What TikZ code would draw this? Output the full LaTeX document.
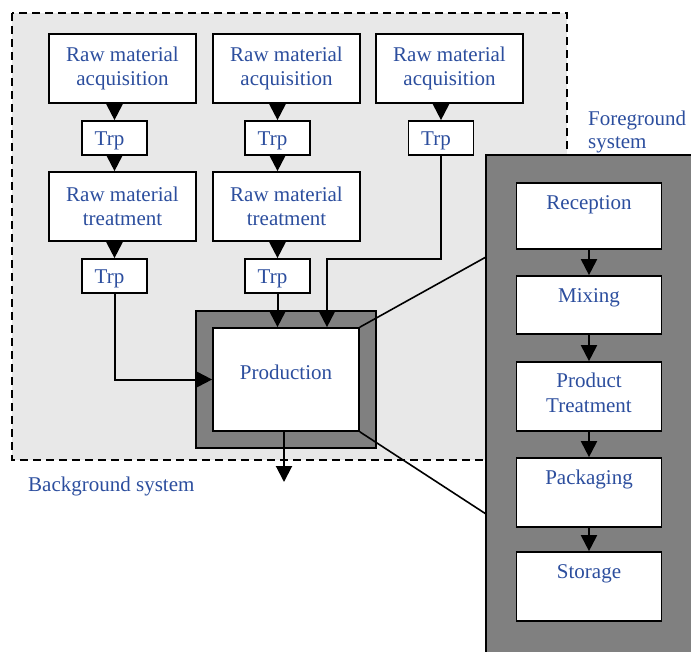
\documentclass[tikz,border=0pt]{standalone}
\usepackage{fontspec}
\setmainfont{Liberation Serif}
\usetikzlibrary{arrows.meta}
\definecolor{txtblue}{RGB}{44,78,158}
\definecolor{bglight}{RGB}{232,232,232}
\definecolor{framegray}{RGB}{128,128,128}
\begin{document}
\begin{tikzpicture}[x=1pt,y=-1pt,
  lbl/.style={font=\fontsize{21}{24.5}\selectfont, text=txtblue},
  box/.style={draw, line width=1.7pt, fill=white, inner sep=0pt, align=center,
    lbl, minimum width=147pt, minimum height=69pt},
  trpbox/.style={draw, line width=1.7pt, fill=white, inner sep=0pt,
    minimum width=65pt, minimum height=34pt},
  fgbox/.style={draw, line width=1.7pt, fill=white, inner sep=0pt,
    minimum width=145pt, minimum height=67pt},
  frame/.style={draw, line width=1.7pt, fill=framegray},
  flow/.style={line width=2pt, -{Triangle[length=16pt,width=16pt]}},
  link/.style={line width=1.6pt},
  trplbl/.style={lbl, inner sep=0pt, xshift=-5pt, yshift=-3pt},
  toplbl/.style={lbl, inner sep=0pt, anchor=base, yshift=-27.5pt}]
\useasboundingbox (0,0) rectangle (691,651);

% background system
\draw[fill=bglight, line width=1.5pt, dash pattern=on 8pt off 5pt] (12,13) rectangle (567,460);
\node[lbl, anchor=base west, inner sep=0pt] (bglabel) at (28,491) {Background system};

% raw material chains
\node[box] (acq1) at (122.5,68.5) {Raw material\\acquisition};
\node[box] (acq2) at (286.5,68.5) {Raw material\\acquisition};
\node[box] (acq3) at (449.5,68.5) {Raw material\\acquisition};
\node[trpbox, label={[trplbl]center:Trp}] (trp1a) at (114.5,138) {};
\node[trpbox, label={[trplbl]center:Trp}] (trp2a) at (277.5,138) {};
\node[trpbox, label={[trplbl]center:Trp}] (trp3a) at (441,138) {};
\node[box] (trt1) at (122.5,206.5) {Raw material\\treatment};
\node[box] (trt2) at (286.5,206.5) {Raw material\\treatment};
\node[trpbox, label={[trplbl]center:Trp}] (trp1b) at (114.5,276) {};
\node[trpbox, label={[trplbl]center:Trp}] (trp2b) at (277.5,276) {};

\draw[flow] (trp1a.north |- acq1.south) -- (trp1a.north);
\draw[flow] (trp2a.north |- acq2.south) -- (trp2a.north);
\draw[flow] (trp3a.north |- acq3.south) -- (trp3a.north);
\draw[flow] (trp1a.south) -- (trp1a.south |- trt1.north);
\draw[flow] (trp2a.south) -- (trp2a.south |- trt2.north);
\draw[flow] (trp1b.north |- trt1.south) -- (trp1b.north);
\draw[flow] (trp2b.north |- trt2.south) -- (trp2b.north);

% production
\node[frame, inner sep=0pt, minimum width=180pt, minimum height=137pt] (prodframe) at (286,379.5) {};
\node[draw, line width=1.7pt, fill=white, inner sep=0pt, minimum width=146pt, minimum height=103pt,
  label={[lbl, inner sep=0pt, yshift=7pt]center:Production}] (prod) at (286,379.5) {};

\coordinate (j3) at (327,259);
\coordinate (out) at (284,482);
\draw[flow] (trp1b.south) |- (prod.west);
\draw[flow] (trp2b.south) -- (trp2b.south |- prod.north);
\draw[flow] (trp3a.south) |- (j3) -- (j3 |- prod.north);
\draw[flow] (prod.south -| out) -- (out);

% foreground system
\node[frame, inner sep=0pt, minimum width=214pt, minimum height=505pt] (fg) at (593,407.5) {};
\node[lbl, anchor=north west, align=left, inner sep=0pt, font=\fontsize{21}{23.5}\selectfont] (fglabel) at (588,110.5) {Foreground\\system};

\node[fgbox, minimum height=66pt, label={[toplbl]north:Reception}] (rec) at (589,216) {};
\node[fgbox, minimum height=58pt, label={[toplbl]north:Mixing}] (mix) at (589,305) {};
\node[fgbox, minimum height=69pt,
  label={[lbl, inner sep=0pt, anchor=north, align=center, yshift=-12pt]north:Product\\Treatment}] (ptr) at (589,396.5) {};
\node[fgbox, minimum height=69pt, label={[toplbl]north:Packaging}] (pkg) at (589,492.5) {};
\node[fgbox, minimum height=69pt, label={[toplbl]north:Storage}] (sto) at (589,586.5) {};

\draw[flow] (rec.south) -- (mix.north);
\draw[flow] (mix.south) -- (ptr.north);
\draw[flow] (ptr.south) -- (pkg.north);
\draw[flow] (pkg.south) -- (sto.north);

% zoom lines from production to the foreground system
\coordinate (fgA) at (486,257);
\coordinate (fgB) at (486,514);
\draw[link] (prod.north east) -- (fgA);
\draw[link] (prod.south east) -- (fgB);
\end{tikzpicture}
\end{document}
